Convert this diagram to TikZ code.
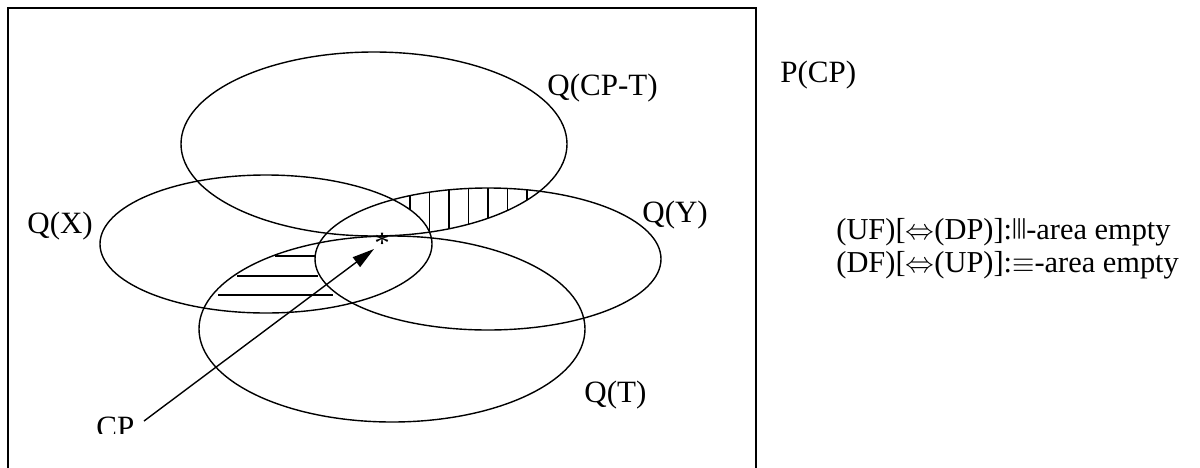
\documentclass[tikz,border=0pt]{standalone}
\usepackage{fontspec}
\usepackage{graphicx}
\setmainfont{Liberation Serif}
\newfontfamily\barfont{Liberation Sans}
\usetikzlibrary{arrows.meta}
\newcommand{\tribar}{{\barfont\raisebox{.15em}{\scalebox{.6}[.72]{|||}}}}

\begin{document}
\begin{tikzpicture}[x=0.5pt,y=-0.5pt,
  set/.style={line width=0.7pt},
  hatch/.style={line width=0.6pt},
  lab/.style={inner sep=0pt,anchor=base west,font=\fontsize{15.5}{18}\selectfont},
  rule/.style={lab,font=\fontsize{15.2}{18}\selectfont}]
\useasboundingbox (0,0) rectangle (1200,467);
\draw[line width=1pt] (8,8) rectangle (756,490);
% hatched areas
\begin{scope}
\clip (374,144) ellipse [x radius=193, y radius=92];
\clip (488,259) ellipse [x radius=173, y radius=71];
\foreach \hx in {410,429.5,449,468.5,488,507.5,527}
  \draw[hatch] (\hx,150) -- (\hx,260);
\fill[white] (266,244) ellipse [x radius=166, y radius=69];
\end{scope}
\draw[hatch] (275,256) -- (315,256);
\draw[hatch] (237,276) -- (318,276);
\draw[hatch] (218,295) -- (333,295);
% the four sets
\draw[set] (374,144) ellipse [x radius=193, y radius=92];
\draw[set] (266,244) ellipse [x radius=166, y radius=69];
\draw[set] (488,259) ellipse [x radius=173, y radius=71];
\draw[set] (392,329) ellipse [x radius=193, y radius=93];
% labels
\node[lab] (qcpt) at (547,95) {Q(CP-T)};
\node[lab] (pcp) at (780,82) {P(CP)};
\node[lab] (qx) at (27,233) {Q(X)};
\node[lab] (qy) at (642,222) {Q(Y)};
\node[lab] (qt) at (584,402) {Q(T)};
\node[rule] (uf) at (836,239) {(UF)[$\Leftrightarrow$(DP)]:\tribar-area empty};
\node[rule] (df) at (836,272) {(DF)[$\Leftrightarrow$(UP)]:$\equiv$-area empty};
\begin{scope}
\clip (0,0) rectangle (1200,433);
\node[lab] (cp) at (96,437) {CP};
\end{scope}
\node[inner sep=0pt,font=\fontsize{15.5}{18}\selectfont] (star) at (382,243) {*};
% arrow to the point
\coordinate (cpfoot) at (144,421);
\coordinate (tip) at (374,249);
\draw[set,-{Triangle[length=11pt,width=6pt]}] (cpfoot) -- (tip);
\end{tikzpicture}
\end{document}
